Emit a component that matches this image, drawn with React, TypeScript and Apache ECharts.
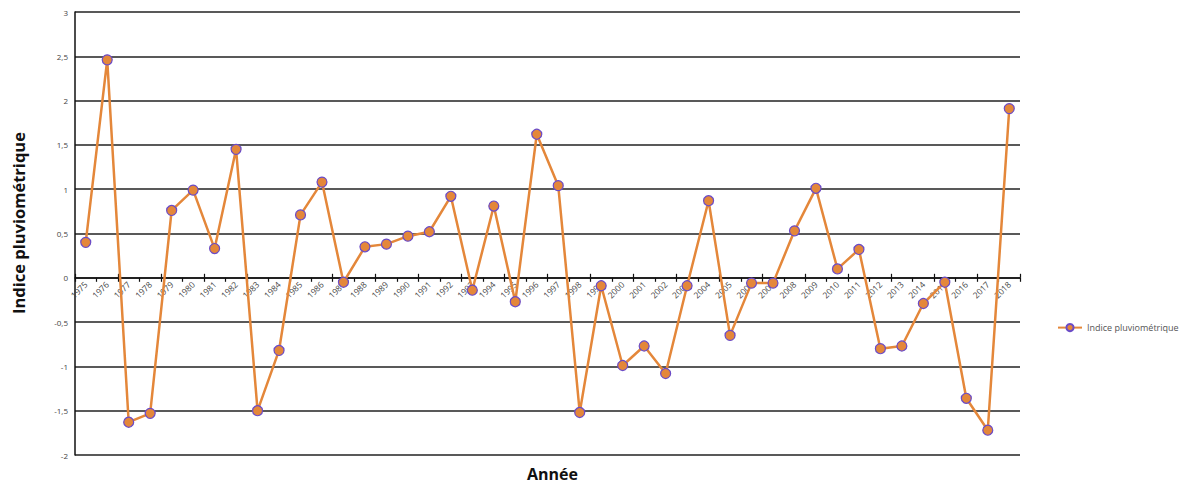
import React, { useEffect, useRef } from "react";
import * as echarts from "echarts";

const years: string[] = [
  "1975","1976","1977","1978","1979","1980","1981","1982","1983","1984",
  "1985","1986","1987","1988","1989","1990","1991","1992","1993","1994",
  "1995","1996","1997","1998","1999","2000","2001","2002","2003","2004",
  "2005","2006","2007","2008","2009","2010","2011","2012","2013","2014",
  "2015","2016","2017","2018",
];

const indice: number[] = [
  0.40, 2.46, -1.63, -1.53, 0.76, 0.99, 0.33, 1.45, -1.50, -0.82,
  0.71, 1.08, -0.05, 0.35, 0.38, 0.47, 0.52, 0.92, -0.14, 0.81,
  -0.27, 1.62, 1.04, -1.52, -0.09, -0.99, -0.77, -1.08, -0.09, 0.87,
  -0.65, -0.06, -0.06, 0.53, 1.01, 0.10, 0.32, -0.80, -0.77, -0.29,
  -0.05, -1.36, -1.72, 1.91,
];

const seriesName = "Indice pluviométrique";
const xTitle = "Année";
const yTitle = "Indice pluviométrique";

const Y_MIN = -2;
const Y_MAX = 3;

export default function App() {
  const ref = useRef<HTMLDivElement>(null);
  useEffect(() => {
    if (!ref.current) return;
    const chart = echarts.init(ref.current, undefined, { renderer: "svg" });
    const gridTop = 12;
    const gridBottom = 34;
    const plotH = 489 - gridTop - gridBottom;
    const zeroOffset = -(plotH * (0 - Y_MIN)) / (Y_MAX - Y_MIN);
    chart.setOption({
      animation: false,
      backgroundColor: "#ffffff",
      textStyle: { fontFamily: "Open Sans" },
      grid: { left: 75, right: 161, top: gridTop, bottom: gridBottom, containLabel: false },
      legend: {
        data: [seriesName],
        left: 1052,
        top: 318,
        itemWidth: 24,
        itemHeight: 9,
        itemGap: 4,
        textStyle: { fontSize: 9, color: "#555", fontFamily: "Open Sans" },
      },
      xAxis: [
        {
          type: "category",
          data: years,
          boundaryGap: true,
          position: "bottom",
          offset: zeroOffset,
          axisLine: { onZero: false, lineStyle: { color: "#111", width: 1.5 } },
          axisTick: { show: true, alignWithLabel: false, length: 4, lineStyle: { color: "#111", width: 1.2 } },
          axisLabel: {
            interval: 0,
            rotate: 45,
            fontSize: 8.5,
            color: "#444",
            margin: 5,
            fontFamily: "Open Sans",
          },
          splitLine: { show: false },
        },
        {
          type: "category",
          data: years,
          boundaryGap: true,
          position: "bottom",
          offset: zeroOffset,
          axisLine: { show: false, onZero: false },
          axisTick: { show: true, inside: true, alignWithLabel: false, length: 4, lineStyle: { color: "#111", width: 1.2 } },
          axisLabel: { show: false },
          splitLine: { show: false },
        },
      ],
      yAxis: {
        type: "value",
        min: Y_MIN,
        max: Y_MAX,
        interval: 0.5,
        axisLine: { show: true, lineStyle: { color: "#111", width: 1.5 } },
        axisTick: { show: false },
        axisLabel: {
          fontSize: 8,
          color: "#444",
          margin: 7,
          fontFamily: "Open Sans",
          formatter: (v: number) => String(v).replace(".", ","),
        },
        splitLine: { show: true, lineStyle: { color: "#222", width: 1.5 } },
      },
      series: [
        {
          name: seriesName,
          type: "line",
          xAxisIndex: 0,
          data: indice,
          symbol: "circle",
          symbolSize: 10,
          lineStyle: { color: "#E4873A", width: 2.5 },
          itemStyle: { color: "#E4873A", borderColor: "#6A4BC8", borderWidth: 1.2 },
        },
      ],
      graphic: [
        {
          type: "text",
          left: 527,
          top: 466,
          style: { text: xTitle, fontSize: 16, fontWeight: "bold", fill: "#111", fontFamily: "Open Sans" },
        },
        {
          type: "text",
          x: 10,
          y: 314,
          rotation: Math.PI / 2,
          style: { text: yTitle, fontSize: 16.5, fontWeight: "bold", fill: "#111", fontFamily: "Open Sans" },
        },
      ],
    });
    return () => chart.dispose();
  }, []);
  return (
    <div
      ref={ref}
      style={{ position: "fixed", left: 0, top: 0, width: 1181, height: 489 }}
    />
  );
}
